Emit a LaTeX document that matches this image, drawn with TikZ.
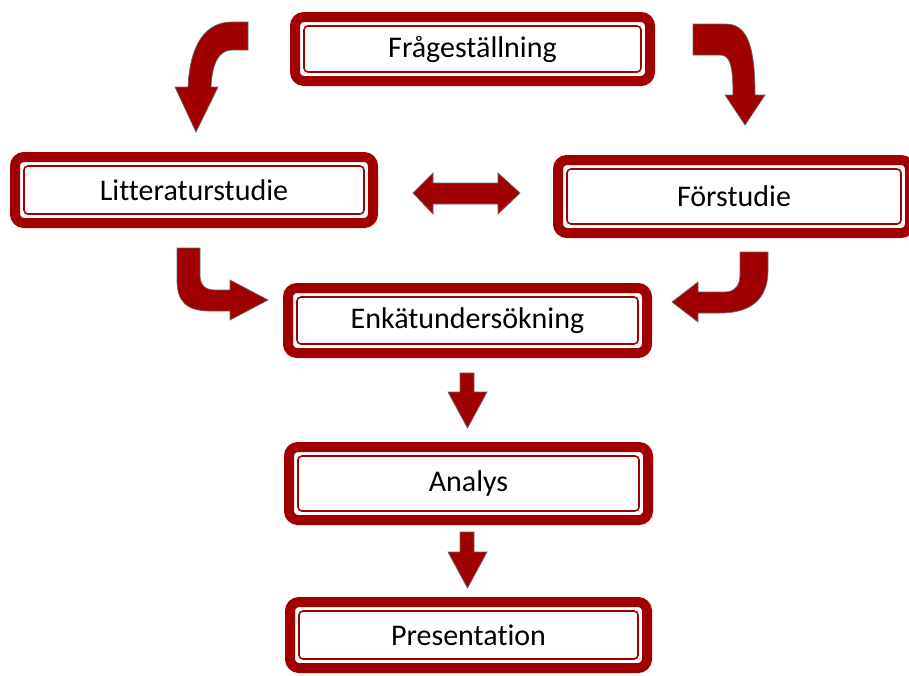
\documentclass[tikz,border=0pt]{standalone}
\usepackage{fontspec}
\setmainfont{Carlito}[Ligatures=NoCommon]
\usetikzlibrary{calc}
\definecolor{boxred}{HTML}{A00000}
\begin{document}
\begin{tikzpicture}[x=1pt,y=-1pt,
  stepbox/.style={draw=boxred,line width=10pt,rounded corners=9pt,fill=white,outer sep=0pt,
    font=\fontsize{30}{34}\selectfont},
  innerline/.style={draw=boxred,line width=1.6pt,rounded corners=4pt},
  blockarrow/.style={fill=boxred,draw=black!60,line width=0.7pt,line join=miter}]
\useasboundingbox (0,0) rectangle (909,675);
\node[stepbox,minimum width=355,minimum height=64] (fraga) at (472.5,49) {Frågeställning};
\node[stepbox,minimum width=358,minimum height=66] (litt) at (194,190) {Litteraturstudie};
\node[stepbox,minimum width=352,minimum height=73] (forst) at (734,196.5) {Förstudie};
\node[stepbox,minimum width=359,minimum height=65] (enkat) at (467.5,320.5) {Enkätundersökning};
\node[stepbox,minimum width=359,minimum height=73] (analys) at (468.5,483.5) {Analys};
\node[stepbox,minimum width=357,minimum height=66] (pres) at (468.5,635) {Presentation};
\foreach \n in {fraga,litt,forst,enkat,analys,pres}
  \draw[innerline] ([shift={(9,9)}]\n.north west) rectangle ([shift={(-9,-9)}]\n.south east);
\draw[blockarrow] (248,22) -- (232,22) .. controls (205,22) and (190,45) .. (188,87)
  -- (175,87) -- (196,132) -- (218,87) -- (211,87) .. controls (212,65) and (218,50) .. (232,50)
  -- (248,50) -- cycle;
\draw[blockarrow] (693,24) -- (725,24) .. controls (745,24) and (755,40) .. (755,95)
  -- (765,95) -- (745,125) -- (725,95) -- (733,95) .. controls (733,65) and (730,55) .. (720,55)
  -- (693,55) -- cycle;
\draw[blockarrow] (413,193) -- (433,173) -- (433,183) -- (498,183) -- (498,173) -- (520,193)
  -- (498,214) -- (498,204) -- (433,204) -- (433,214) -- cycle;
\draw[blockarrow] (177,248) -- (200,248) -- (200,275) .. controls (200,285) and (205,290) .. (215,290)
  -- (230,290) -- (230,280) -- (268,300) -- (230,320) -- (230,311) -- (210,311)
  .. controls (185,311) and (177,300) .. (177,280) -- cycle;
\draw[blockarrow] (740,252) -- (768,252) -- (768,270) .. controls (768,300) and (750,313) .. (720,313)
  -- (698,313) -- (698,322) -- (672,302) -- (698,282) -- (698,292) -- (725,292)
  .. controls (735,292) and (740,285) .. (740,275) -- cycle;
\draw[blockarrow] (460,373) -- (474,373) -- (474,392) -- (487,392) -- (467.5,428) -- (448,392)
  -- (460,392) -- cycle;
\draw[blockarrow] (460,532) -- (474,532) -- (474,552) -- (487,552) -- (467.5,588) -- (448,552)
  -- (460,552) -- cycle;
\end{tikzpicture}
\end{document}
